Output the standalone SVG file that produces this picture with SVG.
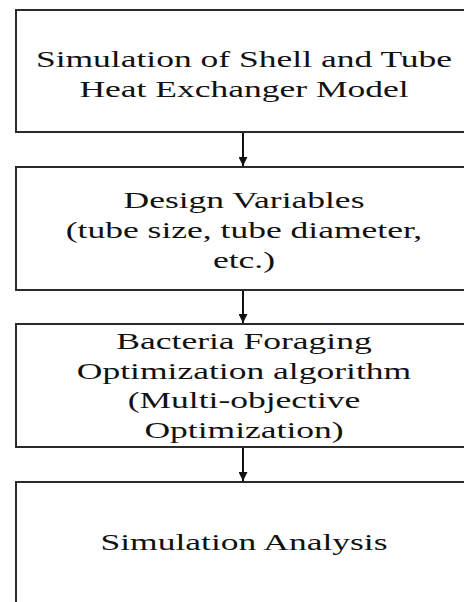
<svg xmlns="http://www.w3.org/2000/svg" width="464" height="602" viewBox="0 0 464 602">
<style>
.box{fill:#fff;stroke:#2a2a2a;stroke-width:2}
.lbl{font-family:'Liberation Serif','Times New Roman',Times,serif;font-size:24px;fill:#111;text-anchor:middle}
.conn{stroke:#111;stroke-width:2;fill:none}
</style>
<defs>
<marker id="ah" viewBox="0 0 10 10" refX="10" refY="5" markerWidth="9" markerHeight="9" markerUnits="userSpaceOnUse" orient="auto">
<path d="M0,0 L10,5 L0,10 z" fill="#111"/>
</marker>
</defs>
<rect width="464" height="602" fill="#fff"/>
<g id="connectors">
<line class="conn" x1="243" y1="133" x2="243" y2="166" marker-end="url(#ah)"/>
<line class="conn" x1="243" y1="291" x2="243" y2="323" marker-end="url(#ah)"/>
<line class="conn" x1="243" y1="448" x2="243" y2="481" marker-end="url(#ah)"/>
</g>
<g id="node1">
<rect class="box" x="16" y="10" width="456" height="122"/>
<text class="lbl" font-family="Liberation Serif, serif" transform="translate(244,66.5) scale(1.48,1)">Simulation of Shell and Tube</text>
<text class="lbl" font-family="Liberation Serif, serif" transform="translate(244,96.5) scale(1.48,1)">Heat Exchanger Model</text>
</g>
<g id="node2">
<rect class="box" x="16" y="167" width="456" height="123"/>
<text class="lbl" font-family="Liberation Serif, serif" transform="translate(244,208) scale(1.48,1)">Design Variables</text>
<text class="lbl" font-family="Liberation Serif, serif" transform="translate(244,238) scale(1.48,1)">(tube size, tube diameter,</text>
<text class="lbl" font-family="Liberation Serif, serif" transform="translate(244,268) scale(1.48,1)">etc.)</text>
</g>
<g id="node3">
<rect class="box" x="16" y="324" width="456" height="123"/>
<text class="lbl" font-family="Liberation Serif, serif" transform="translate(244,349) scale(1.48,1)">Bacteria Foraging</text>
<text class="lbl" font-family="Liberation Serif, serif" transform="translate(244,378.5) scale(1.48,1)">Optimization algorithm</text>
<text class="lbl" font-family="Liberation Serif, serif" transform="translate(244,408) scale(1.48,1)">(Multi-objective</text>
<text class="lbl" font-family="Liberation Serif, serif" transform="translate(244,437.5) scale(1.48,1)">Optimization)</text>
</g>
<g id="node4">
<rect class="box" x="16" y="482" width="456" height="140"/>
<text class="lbl" font-family="Liberation Serif, serif" transform="translate(244,550) scale(1.48,1)">Simulation Analysis</text>
</g>
</svg>
